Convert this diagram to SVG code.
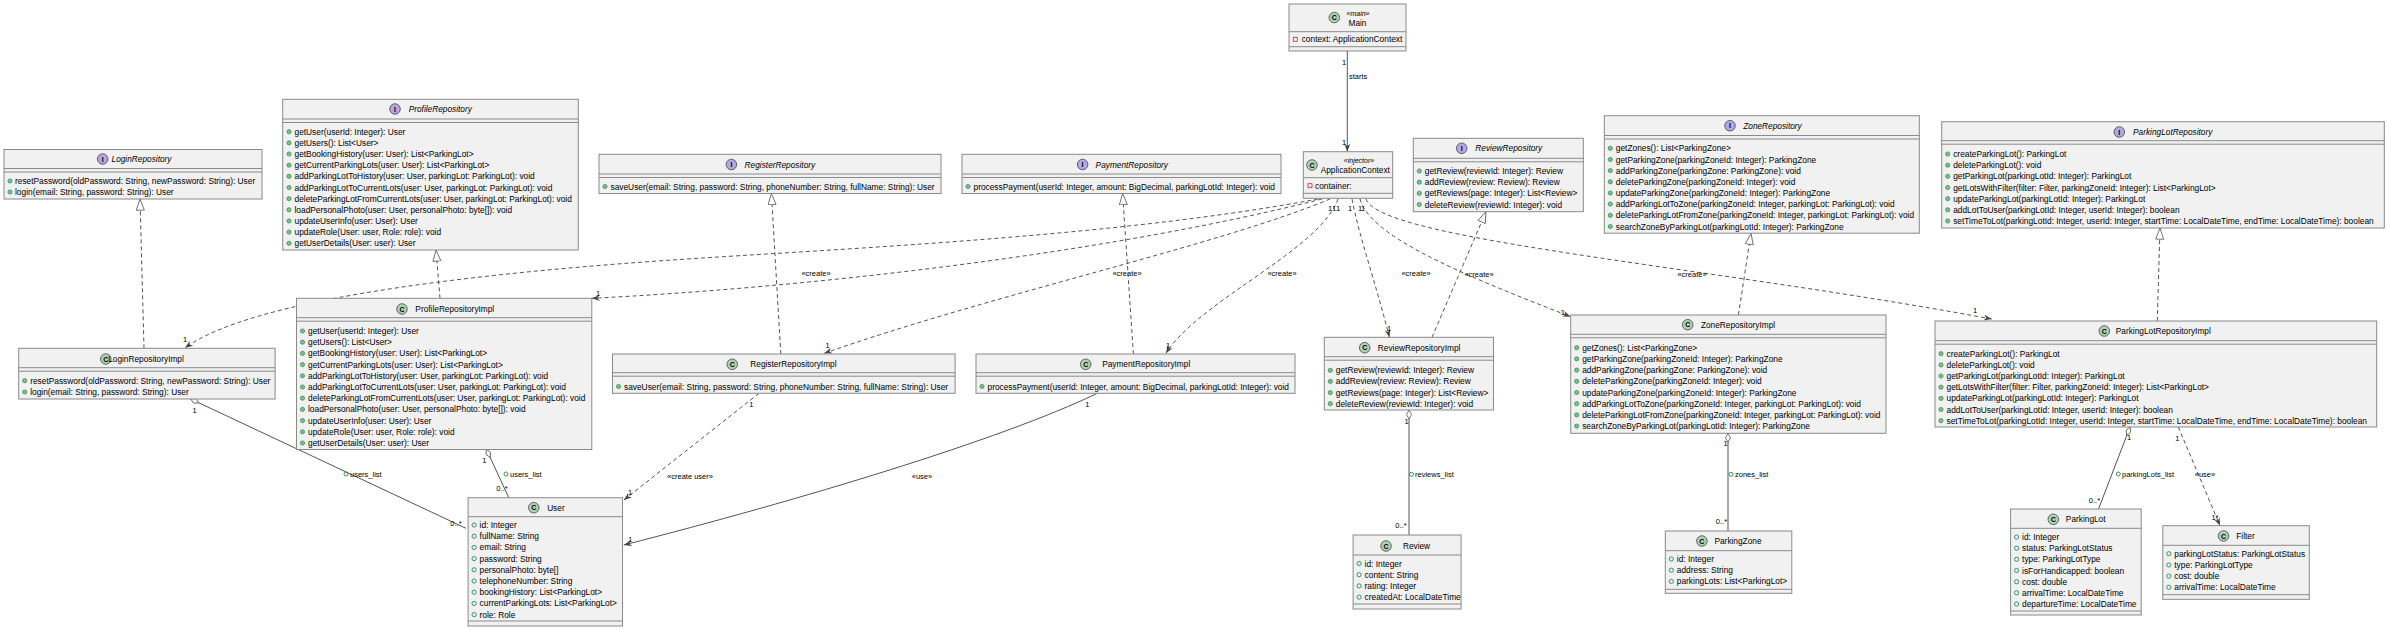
<svg xmlns="http://www.w3.org/2000/svg" width="2387" height="630" viewBox="0 0 2387 630">
<style>
text{font-family:"Liberation Sans",Arial,sans-serif;fill:#000}
.b{fill:#F1F1F1;stroke:#8a8a8a;stroke-width:1}
.s{stroke:#8a8a8a;stroke-width:1}
.n{font-size:8.3px;text-anchor:middle}
.ni{font-size:8.3px;text-anchor:middle;font-style:italic}
.st{font-size:7px;text-anchor:middle;font-style:italic}
.t{font-size:8.35px}
.l{font-size:7.5px}
.lm{font-size:7.5px;text-anchor:middle}
.m{fill:#84BE84;stroke:#038048;stroke-width:0.6}
.f{fill:none;stroke:#038048;stroke-width:0.8}
.p{fill:none;stroke:#C82930;stroke-width:0.8}
.ic{fill:#ADD1B2;stroke:#181818;stroke-width:0.6}
.ii{fill:#B4A7E5;stroke:#181818;stroke-width:0.6}
.il{font-size:7px;font-weight:bold;text-anchor:middle}
.c{fill:none;stroke:#555;stroke-width:1}
.d{stroke-dasharray:4,3}
</style>
<defs>
<marker id="arr" markerUnits="userSpaceOnUse" markerWidth="9" markerHeight="7" refX="8" refY="3" orient="auto"><path d="M0,0 L8,3 L0,6 L2.5,3 Z" fill="#444"/></marker>
<marker id="tri" markerUnits="userSpaceOnUse" markerWidth="13" markerHeight="10" refX="11.7" refY="4.5" orient="auto"><path d="M0.5,0.5 L11.7,4.5 L0.5,8.5 Z" fill="#fff" stroke="#555" stroke-width="0.8"/></marker>
<marker id="dia" markerUnits="userSpaceOnUse" markerWidth="11" markerHeight="7" refX="0.5" refY="3" orient="auto"><path d="M0.5,3 L5,0.5 L9.5,3 L5,5.5 Z" fill="#fff" stroke="#555" stroke-width="0.8"/></marker>
</defs>

<g id="connectors">
<path class="c" d="M1347.3,51 L1347.3,151.7" marker-end="url(#arr)"/>
<text class="l" x="1342" y="65">1</text>
<text class="l" x="1349" y="79">starts</text>
<text class="l" x="1342" y="145">1</text>

<path class="c d" d="M1318,199 C1100,240 800,250 630,263 S250,300 185,348" marker-end="url(#arr)"/>
<path class="c d" d="M1322,199 C1100,255 800,288 591.8,298.3" marker-end="url(#arr)"/>
<path class="c d" d="M1330,199 C1220,245 990,295 824.2,353.3" marker-end="url(#arr)"/>
<path class="c d" d="M1338,199 C1320,250 1200,300 1165.9,353.3" marker-end="url(#arr)"/>
<path class="c d" d="M1352,199 C1360,240 1375,280 1389.4,337.3" marker-end="url(#arr)"/>
<path class="c d" d="M1360,199 C1370,235 1450,270 1570.7,316.7" marker-end="url(#arr)"/>
<path class="c d" d="M1366,199 C1380,240 1700,265 1991.7,319" marker-end="url(#arr)"/>
<text class="lm" x="816" y="276">«create»</text>
<text class="lm" x="1127" y="276">«create»</text>
<text class="lm" x="1282" y="276">«create»</text>
<text class="lm" x="1416" y="276">«create»</text>
<text class="lm" x="1479" y="277">«create»</text>
<text class="lm" x="1692" y="277">«create»</text>
<text class="lm" x="1330" y="211">1</text>
<text class="lm" x="1334" y="211">1</text>
<text class="lm" x="1338" y="211">1</text>
<text class="lm" x="1350" y="211">1</text>
<text class="lm" x="1360" y="211">1</text>
<text class="lm" x="1363" y="211">1</text>
<text class="lm" x="185" y="342">1</text>
<text class="lm" x="598" y="296">1</text>
<text class="lm" x="827.6" y="348">1</text>
<text class="lm" x="1168" y="348">1</text>
<text class="lm" x="1389" y="330.5">1</text>
<text class="lm" x="1562.8" y="314.5">1</text>
<text class="lm" x="1975" y="313">1</text>

<path class="c d" d="M144,348.3 L140,199" marker-end="url(#tri)"/>
<path class="c d" d="M440,298.3 L436,250" marker-end="url(#tri)"/>
<path class="c d" d="M780.8,354 L771.4,193.5" marker-end="url(#tri)"/>
<path class="c d" d="M1133.4,354 L1122.6,193.5" marker-end="url(#tri)"/>
<path class="c d" d="M1432,337.3 L1486,211.7" marker-end="url(#tri)"/>
<path class="c d" d="M1738.4,315 L1751,233.3" marker-end="url(#tri)"/>
<path class="c d" d="M2157.3,321 L2160,228" marker-end="url(#tri)"/>

<path class="c" d="M190.7,399 L466,528.3" marker-start="url(#dia)"/>
<text class="lm" x="194.6" y="413">1</text>
<circle class="f" cx="346" cy="474" r="2"/><text class="l" x="350" y="477">users_list</text>
<text class="lm" x="456" y="526">0..*</text>

<path class="c" d="M486.4,449.3 L508.8,497.7" marker-start="url(#dia)"/>
<text class="lm" x="484.4" y="463">1</text>
<circle class="f" cx="506" cy="474" r="2"/><text class="l" x="510" y="477">users_list</text>
<text class="lm" x="502" y="491">0..*</text>

<path class="c d" d="M759,393.3 L623.8,500" marker-end="url(#arr)"/>
<text class="lm" x="751.3" y="407">1</text>
<text class="lm" x="690" y="478.5">«create user»</text>
<text class="lm" x="630" y="494.5">1</text>

<path class="c" d="M1097.4,393.3 C1000,440 800,500 623.8,545" marker-end="url(#arr)"/>
<text class="lm" x="1087.4" y="407">1</text>
<text class="lm" x="922" y="478.5">«use»</text>
<text class="lm" x="630.4" y="542">1</text>

<path class="c" d="M1409,410 L1409,535" marker-start="url(#dia)"/>
<text class="lm" x="1406.7" y="424">1</text>
<circle class="f" cx="1411.5" cy="474.3" r="2"/><text class="l" x="1415" y="477.3">reviews_list</text>
<text class="lm" x="1401" y="528">0..*</text>

<path class="c" d="M1728,433.3 L1728,531" marker-start="url(#dia)"/>
<text class="lm" x="1725.5" y="446">1</text>
<circle class="f" cx="1731" cy="474.3" r="2"/><text class="l" x="1735" y="477.3">zones_list</text>
<text class="lm" x="1721.5" y="524">0..*</text>

<path class="c" d="M2130,427 L2098.5,509" marker-start="url(#dia)"/>
<text class="lm" x="2129" y="439.5">1</text>
<circle class="f" cx="2118.3" cy="474" r="2"/><text class="l" x="2122" y="477">parkingLots_list</text>
<text class="lm" x="2094.5" y="503">0..*</text>

<path class="c d" d="M2178.3,427 L2220,525.7" marker-end="url(#arr)"/>
<text class="lm" x="2177.3" y="440.5">1</text>
<text class="lm" x="2205" y="477.3">«use»</text>
<text class="lm" x="2215" y="519.5">1*</text>
</g>

<g id="Main">
<rect class="b" x="1289" y="4" width="117" height="47"/>
<line class="s" x1="1289" y1="31.7" x2="1406" y2="31.7"/>
<line class="s" x1="1289" y1="46.7" x2="1406" y2="46.7"/>
<circle class="ic" cx="1334.3" cy="17.5" r="5.3"/><text class="il" x="1334.3" y="20">C</text>
<text class="st" x="1358" y="15.5">«main»</text>
<text class="n" x="1357.5" y="26.3">Main</text>
<rect class="p" x="1293.3" y="37.3" width="4" height="4"/>
<text class="t" x="1301.7" y="42.3">context: ApplicationContext</text>
</g>

<g id="ApplicationContext">
<rect class="b" x="1303.3" y="151.7" width="89.4" height="46.6"/>
<line class="s" x1="1303.3" y1="177.7" x2="1392.7" y2="177.7"/>
<line class="s" x1="1303.3" y1="193.3" x2="1392.7" y2="193.3"/>
<circle class="ic" cx="1312" cy="165" r="5.3"/><text class="il" x="1312" y="167.5">C</text>
<text class="st" x="1359" y="162.5">«injector»</text>
<text class="n" x="1355.3" y="173">ApplicationContext</text>
<rect class="p" x="1308" y="183.7" width="4" height="4"/>
<text class="t" x="1315" y="188.7">container:</text>
</g>

<g id="LoginRepository">
<rect class="b" x="4" y="149.5" width="258" height="49.5"/>
<line class="s" x1="4" y1="168.5" x2="262" y2="168.5"/>
<line class="s" x1="4" y1="172" x2="262" y2="172"/>
<circle class="ii" cx="102.7" cy="159" r="5.3"/><text class="il" x="102.7" y="161.5">I</text>
<text class="ni" x="141.5" y="162">LoginRepository</text>
<circle class="m" cx="10" cy="181" r="2.1"/><text class="t" x="15" y="184">resetPassword(oldPassword: String, newPassword: String): User</text>
<circle class="m" cx="10" cy="192" r="2.1"/><text class="t" x="15" y="195">login(email: String, password: String): User</text>
</g>

<g id="ProfileRepository">
<rect class="b" x="282.7" y="99.3" width="295.6" height="150.7"/>
<line class="s" x1="282.7" y1="119" x2="578.3" y2="119"/>
<line class="s" x1="282.7" y1="122.5" x2="578.3" y2="122.5"/>
<circle class="ii" cx="395" cy="109" r="5.3"/><text class="il" x="395" y="111.5">I</text>
<text class="ni" x="440.3" y="112">ProfileRepository</text>
<circle class="m" cx="289" cy="131.7" r="2.1"/><text class="t" x="294.5" y="134.7">getUser(userId: Integer): User</text>
<circle class="m" cx="289" cy="142.9" r="2.1"/><text class="t" x="294.5" y="145.9">getUsers(): List&lt;User&gt;</text>
<circle class="m" cx="289" cy="154" r="2.1"/><text class="t" x="294.5" y="157">getBookingHistory(user: User): List&lt;ParkingLot&gt;</text>
<circle class="m" cx="289" cy="165.2" r="2.1"/><text class="t" x="294.5" y="168.2">getCurrentParkingLots(user: User): List&lt;ParkingLot&gt;</text>
<circle class="m" cx="289" cy="176.3" r="2.1"/><text class="t" x="294.5" y="179.3">addParkingLotToHistory(user: User, parkingLot: ParkingLot): void</text>
<circle class="m" cx="289" cy="187.5" r="2.1"/><text class="t" x="294.5" y="190.5">addParkingLotToCurrentLots(user: User, parkingLot: ParkingLot): void</text>
<circle class="m" cx="289" cy="198.7" r="2.1"/><text class="t" x="294.5" y="201.7">deleteParkingLotFromCurrentLots(user: User, parkingLot: ParkingLot): void</text>
<circle class="m" cx="289" cy="209.8" r="2.1"/><text class="t" x="294.5" y="212.8">loadPersonalPhoto(user: User, personalPhoto: byte[]): void</text>
<circle class="m" cx="289" cy="221" r="2.1"/><text class="t" x="294.5" y="224">updateUserInfo(user: User): User</text>
<circle class="m" cx="289" cy="232.1" r="2.1"/><text class="t" x="294.5" y="235.1">updateRole(User: user, Role: role): void</text>
<circle class="m" cx="289" cy="243.3" r="2.1"/><text class="t" x="294.5" y="246.3">getUserDetails(User: user): User</text>
</g>

<g id="RegisterRepository">
<rect class="b" x="599" y="154.3" width="342" height="39.2"/>
<line class="s" x1="599" y1="174" x2="941" y2="174"/>
<line class="s" x1="599" y1="177.5" x2="941" y2="177.5"/>
<circle class="ii" cx="731.4" cy="164.5" r="5.3"/><text class="il" x="731.4" y="167">I</text>
<text class="ni" x="779.9" y="167.5">RegisterRepository</text>
<circle class="m" cx="605" cy="186.5" r="2.1"/><text class="t" x="610.5" y="189.5">saveUser(email: String, password: String, phoneNumber: String, fullName: String): User</text>
</g>

<g id="PaymentRepository">
<rect class="b" x="962" y="154.3" width="319" height="39.2"/>
<line class="s" x1="962" y1="174" x2="1281" y2="174"/>
<line class="s" x1="962" y1="177.5" x2="1281" y2="177.5"/>
<circle class="ii" cx="1082.6" cy="164.5" r="5.3"/><text class="il" x="1082.6" y="167">I</text>
<text class="ni" x="1131.8" y="167.5">PaymentRepository</text>
<circle class="m" cx="968" cy="186.5" r="2.1"/><text class="t" x="973.5" y="189.5">processPayment(userId: Integer, amount: BigDecimal, parkingLotId: Integer): void</text>
</g>

<g id="ReviewRepository">
<rect class="b" x="1413.3" y="138.3" width="170" height="73.4"/>
<line class="s" x1="1413.3" y1="158.3" x2="1583.3" y2="158.3"/>
<line class="s" x1="1413.3" y1="161.8" x2="1583.3" y2="161.8"/>
<circle class="ii" cx="1461.7" cy="148.3" r="5.3"/><text class="il" x="1461.7" y="150.8">I</text>
<text class="ni" x="1508.8" y="151.3">ReviewRepository</text>
<circle class="m" cx="1419.3" cy="171" r="2.1"/><text class="t" x="1424.8" y="174">getReview(reviewId: Integer): Review</text>
<circle class="m" cx="1419.3" cy="182.2" r="2.1"/><text class="t" x="1424.8" y="185.2">addReview(review: Review): Review</text>
<circle class="m" cx="1419.3" cy="193.3" r="2.1"/><text class="t" x="1424.8" y="196.3">getReviews(page: Integer): List&lt;Review&gt;</text>
<circle class="m" cx="1419.3" cy="204.5" r="2.1"/><text class="t" x="1424.8" y="207.5">deleteReview(reviewId: Integer): void</text>
</g>

<g id="ZoneRepository">
<rect class="b" x="1604.3" y="115.7" width="315" height="117.5"/>
<line class="s" x1="1604.3" y1="135.5" x2="1919.3" y2="135.5"/>
<line class="s" x1="1604.3" y1="139" x2="1919.3" y2="139"/>
<circle class="ii" cx="1730" cy="125.7" r="5.3"/><text class="il" x="1730" y="128.2">I</text>
<text class="ni" x="1772.5" y="128.7">ZoneRepository</text>
<circle class="m" cx="1610.3" cy="148.3" r="2.1"/><text class="t" x="1615.8" y="151.3">getZones(): List&lt;ParkingZone&gt;</text>
<circle class="m" cx="1610.3" cy="159.5" r="2.1"/><text class="t" x="1615.8" y="162.5">getParkingZone(parkingZoneId: Integer): ParkingZone</text>
<circle class="m" cx="1610.3" cy="170.6" r="2.1"/><text class="t" x="1615.8" y="173.6">addParkingZone(parkingZone: ParkingZone): void</text>
<circle class="m" cx="1610.3" cy="181.8" r="2.1"/><text class="t" x="1615.8" y="184.8">deleteParkingZone(parkingZoneId: Integer): void</text>
<circle class="m" cx="1610.3" cy="193" r="2.1"/><text class="t" x="1615.8" y="196">updateParkingZone(parkingZoneId: Integer): ParkingZone</text>
<circle class="m" cx="1610.3" cy="204.1" r="2.1"/><text class="t" x="1615.8" y="207.1">addParkingLotToZone(parkingZoneId: Integer, parkingLot: ParkingLot): void</text>
<circle class="m" cx="1610.3" cy="215.3" r="2.1"/><text class="t" x="1615.8" y="218.3">deleteParkingLotFromZone(parkingZoneId: Integer, parkingLot: ParkingLot): void</text>
<circle class="m" cx="1610.3" cy="226.5" r="2.1"/><text class="t" x="1615.8" y="229.5">searchZoneByParkingLot(parkingLotId: Integer): ParkingZone</text>
</g>

<g id="ParkingLotRepository">
<rect class="b" x="1941.7" y="121.7" width="442.6" height="106.3"/>
<line class="s" x1="1941.7" y1="140.7" x2="2384.3" y2="140.7"/>
<line class="s" x1="1941.7" y1="144.2" x2="2384.3" y2="144.2"/>
<circle class="ii" cx="2119.3" cy="132" r="5.3"/><text class="il" x="2119.3" y="134.5">I</text>
<text class="ni" x="2172.7" y="135">ParkingLotRepository</text>
<circle class="m" cx="1947.7" cy="154" r="2.1"/><text class="t" x="1953.2" y="157">createParkingLot(): ParkingLot</text>
<circle class="m" cx="1947.7" cy="165.2" r="2.1"/><text class="t" x="1953.2" y="168.2">deleteParkingLot(): void</text>
<circle class="m" cx="1947.7" cy="176.3" r="2.1"/><text class="t" x="1953.2" y="179.3">getParkingLot(parkingLotId: Integer): ParkingLot</text>
<circle class="m" cx="1947.7" cy="187.5" r="2.1"/><text class="t" x="1953.2" y="190.5">getLotsWithFilter(filter: Filter, parkingZoneId: Integer): List&lt;ParkingLot&gt;</text>
<circle class="m" cx="1947.7" cy="198.7" r="2.1"/><text class="t" x="1953.2" y="201.7">updateParkingLot(parkingLotId: Integer): ParkingLot</text>
<circle class="m" cx="1947.7" cy="209.8" r="2.1"/><text class="t" x="1953.2" y="212.8">addLotToUser(parkingLotId: Integer, userId: Integer): boolean</text>
<circle class="m" cx="1947.7" cy="221" r="2.1"/><text class="t" x="1953.2" y="224">setTimeToLot(parkingLotId: Integer, userId: Integer, startTime: LocalDateTime, endTime: LocalDateTime): boolean</text>
</g>

<g id="LoginRepositoryImpl">
<rect class="b" x="18.7" y="348.3" width="256.4" height="50.7"/>
<line class="s" x1="18.7" y1="367.7" x2="275.1" y2="367.7"/>
<line class="s" x1="18.7" y1="371.2" x2="275.1" y2="371.2"/>
<circle class="ic" cx="105.8" cy="359" r="5.3"/><text class="il" x="105.8" y="361.5">C</text>
<text class="n" x="146" y="362">LoginRepositoryImpl</text>
<circle class="m" cx="24.7" cy="380.7" r="2.1"/><text class="t" x="30.2" y="383.7">resetPassword(oldPassword: String, newPassword: String): User</text>
<circle class="m" cx="24.7" cy="392" r="2.1"/><text class="t" x="30.2" y="395">login(email: String, password: String): User</text>
</g>

<g id="ProfileRepositoryImpl">
<rect class="b" x="296.5" y="298.3" width="295.3" height="151.2"/>
<line class="s" x1="296.5" y1="317.7" x2="591.8" y2="317.7"/>
<line class="s" x1="296.5" y1="321.2" x2="591.8" y2="321.2"/>
<circle class="ic" cx="402" cy="309" r="5.3"/><text class="il" x="402" y="311.5">C</text>
<text class="n" x="454.8" y="312">ProfileRepositoryImpl</text>
<circle class="m" cx="302.5" cy="331" r="2.1"/><text class="t" x="308" y="334">getUser(userId: Integer): User</text>
<circle class="m" cx="302.5" cy="342.2" r="2.1"/><text class="t" x="308" y="345.2">getUsers(): List&lt;User&gt;</text>
<circle class="m" cx="302.5" cy="353.4" r="2.1"/><text class="t" x="308" y="356.4">getBookingHistory(user: User): List&lt;ParkingLot&gt;</text>
<circle class="m" cx="302.5" cy="364.6" r="2.1"/><text class="t" x="308" y="367.6">getCurrentParkingLots(user: User): List&lt;ParkingLot&gt;</text>
<circle class="m" cx="302.5" cy="375.8" r="2.1"/><text class="t" x="308" y="378.8">addParkingLotToHistory(user: User, parkingLot: ParkingLot): void</text>
<circle class="m" cx="302.5" cy="387" r="2.1"/><text class="t" x="308" y="390">addParkingLotToCurrentLots(user: User, parkingLot: ParkingLot): void</text>
<circle class="m" cx="302.5" cy="398.2" r="2.1"/><text class="t" x="308" y="401.2">deleteParkingLotFromCurrentLots(user: User, parkingLot: ParkingLot): void</text>
<circle class="m" cx="302.5" cy="409.4" r="2.1"/><text class="t" x="308" y="412.4">loadPersonalPhoto(user: User, personalPhoto: byte[]): void</text>
<circle class="m" cx="302.5" cy="420.6" r="2.1"/><text class="t" x="308" y="423.6">updateUserInfo(user: User): User</text>
<circle class="m" cx="302.5" cy="431.8" r="2.1"/><text class="t" x="308" y="434.8">updateRole(User: user, Role: role): void</text>
<circle class="m" cx="302.5" cy="443" r="2.1"/><text class="t" x="308" y="446">getUserDetails(User: user): User</text>
</g>

<g id="RegisterRepositoryImpl">
<rect class="b" x="612.5" y="354" width="342.6" height="39.3"/>
<line class="s" x1="612.5" y1="372.7" x2="955.1" y2="372.7"/>
<line class="s" x1="612.5" y1="376.2" x2="955.1" y2="376.2"/>
<circle class="ic" cx="732.2" cy="364.3" r="5.3"/><text class="il" x="732.2" y="366.8">C</text>
<text class="n" x="793.4" y="367.3">RegisterRepositoryImpl</text>
<circle class="m" cx="618.5" cy="386.5" r="2.1"/><text class="t" x="624" y="389.5">saveUser(email: String, password: String, phoneNumber: String, fullName: String): User</text>
</g>

<g id="PaymentRepositoryImpl">
<rect class="b" x="976" y="354" width="319" height="39.3"/>
<line class="s" x1="976" y1="372.7" x2="1295" y2="372.7"/>
<line class="s" x1="976" y1="376.2" x2="1295" y2="376.2"/>
<circle class="ic" cx="1085.7" cy="364.3" r="5.3"/><text class="il" x="1085.7" y="366.8">C</text>
<text class="n" x="1146.2" y="367.3">PaymentRepositoryImpl</text>
<circle class="m" cx="982" cy="386.5" r="2.1"/><text class="t" x="987.5" y="389.5">processPayment(userId: Integer, amount: BigDecimal, parkingLotId: Integer): void</text>
</g>

<g id="ReviewRepositoryImpl">
<rect class="b" x="1324.3" y="337.3" width="169.2" height="72.7"/>
<line class="s" x1="1324.3" y1="356.7" x2="1493.5" y2="356.7"/>
<line class="s" x1="1324.3" y1="360.2" x2="1493.5" y2="360.2"/>
<circle class="ic" cx="1364.7" cy="347.7" r="5.3"/><text class="il" x="1364.7" y="350.2">C</text>
<text class="n" x="1419.1" y="350.7">ReviewRepositoryImpl</text>
<circle class="m" cx="1330.3" cy="370.3" r="2.1"/><text class="t" x="1335.8" y="373.3">getReview(reviewId: Integer): Review</text>
<circle class="m" cx="1330.3" cy="381.4" r="2.1"/><text class="t" x="1335.8" y="384.4">addReview(review: Review): Review</text>
<circle class="m" cx="1330.3" cy="392.6" r="2.1"/><text class="t" x="1335.8" y="395.6">getReviews(page: Integer): List&lt;Review&gt;</text>
<circle class="m" cx="1330.3" cy="403.7" r="2.1"/><text class="t" x="1335.8" y="406.7">deleteReview(reviewId: Integer): void</text>
</g>

<g id="ZoneRepositoryImpl">
<rect class="b" x="1570.7" y="315" width="315.3" height="118.3"/>
<line class="s" x1="1570.7" y1="334.3" x2="1886" y2="334.3"/>
<line class="s" x1="1570.7" y1="337.8" x2="1886" y2="337.8"/>
<circle class="ic" cx="1687.7" cy="324.7" r="5.3"/><text class="il" x="1687.7" y="327.2">C</text>
<text class="n" x="1738" y="327.7">ZoneRepositoryImpl</text>
<circle class="m" cx="1576.7" cy="347.7" r="2.1"/><text class="t" x="1582.2" y="350.7">getZones(): List&lt;ParkingZone&gt;</text>
<circle class="m" cx="1576.7" cy="358.9" r="2.1"/><text class="t" x="1582.2" y="361.9">getParkingZone(parkingZoneId: Integer): ParkingZone</text>
<circle class="m" cx="1576.7" cy="370.1" r="2.1"/><text class="t" x="1582.2" y="373.1">addParkingZone(parkingZone: ParkingZone): void</text>
<circle class="m" cx="1576.7" cy="381.3" r="2.1"/><text class="t" x="1582.2" y="384.3">deleteParkingZone(parkingZoneId: Integer): void</text>
<circle class="m" cx="1576.7" cy="392.5" r="2.1"/><text class="t" x="1582.2" y="395.5">updateParkingZone(parkingZoneId: Integer): ParkingZone</text>
<circle class="m" cx="1576.7" cy="403.7" r="2.1"/><text class="t" x="1582.2" y="406.7">addParkingLotToZone(parkingZoneId: Integer, parkingLot: ParkingLot): void</text>
<circle class="m" cx="1576.7" cy="414.9" r="2.1"/><text class="t" x="1582.2" y="417.9">deleteParkingLotFromZone(parkingZoneId: Integer, parkingLot: ParkingLot): void</text>
<circle class="m" cx="1576.7" cy="426.1" r="2.1"/><text class="t" x="1582.2" y="429.1">searchZoneByParkingLot(parkingLotId: Integer): ParkingZone</text>
</g>

<g id="ParkingLotRepositoryImpl">
<rect class="b" x="1935" y="321" width="441.7" height="106"/>
<line class="s" x1="1935" y1="340.7" x2="2376.7" y2="340.7"/>
<line class="s" x1="1935" y1="344.2" x2="2376.7" y2="344.2"/>
<circle class="ic" cx="2104.3" cy="331" r="5.3"/><text class="il" x="2104.3" y="333.5">C</text>
<text class="n" x="2163.3" y="334">ParkingLotRepositoryImpl</text>
<circle class="m" cx="1941" cy="353.7" r="2.1"/><text class="t" x="1946.5" y="356.7">createParkingLot(): ParkingLot</text>
<circle class="m" cx="1941" cy="364.9" r="2.1"/><text class="t" x="1946.5" y="367.9">deleteParkingLot(): void</text>
<circle class="m" cx="1941" cy="376" r="2.1"/><text class="t" x="1946.5" y="379">getParkingLot(parkingLotId: Integer): ParkingLot</text>
<circle class="m" cx="1941" cy="387.2" r="2.1"/><text class="t" x="1946.5" y="390.2">getLotsWithFilter(filter: Filter, parkingZoneId: Integer): List&lt;ParkingLot&gt;</text>
<circle class="m" cx="1941" cy="398.4" r="2.1"/><text class="t" x="1946.5" y="401.4">updateParkingLot(parkingLotId: Integer): ParkingLot</text>
<circle class="m" cx="1941" cy="409.5" r="2.1"/><text class="t" x="1946.5" y="412.5">addLotToUser(parkingLotId: Integer, userId: Integer): boolean</text>
<circle class="m" cx="1941" cy="420.7" r="2.1"/><text class="t" x="1946.5" y="423.7">setTimeToLot(parkingLotId: Integer, userId: Integer, startTime: LocalDateTime, endTime: LocalDateTime): boolean</text>
</g>

<g id="User">
<rect class="b" x="468.1" y="497.7" width="154.4" height="128.3"/>
<line class="s" x1="468.1" y1="516.7" x2="622.5" y2="516.7"/>
<line class="s" x1="468.1" y1="621" x2="622.5" y2="621"/>
<circle class="ic" cx="533.8" cy="507.7" r="5.3"/><text class="il" x="533.8" y="510.2">C</text>
<text class="n" x="555.9" y="510.7">User</text>
<circle class="f" cx="474.1" cy="525" r="2.1"/><text class="t" x="479.6" y="528">id: Integer</text>
<circle class="f" cx="474.1" cy="536.2" r="2.1"/><text class="t" x="479.6" y="539.2">fullName: String</text>
<circle class="f" cx="474.1" cy="547.4" r="2.1"/><text class="t" x="479.6" y="550.4">email: String</text>
<circle class="f" cx="474.1" cy="558.6" r="2.1"/><text class="t" x="479.6" y="561.6">password: String</text>
<circle class="f" cx="474.1" cy="569.8" r="2.1"/><text class="t" x="479.6" y="572.8">personalPhoto: byte[]</text>
<circle class="f" cx="474.1" cy="581" r="2.1"/><text class="t" x="479.6" y="584">telephoneNumber: String</text>
<circle class="f" cx="474.1" cy="592.2" r="2.1"/><text class="t" x="479.6" y="595.2">bookingHistory: List&lt;ParkingLot&gt;</text>
<circle class="f" cx="474.1" cy="603.4" r="2.1"/><text class="t" x="479.6" y="606.4">currentParkingLots: List&lt;ParkingLot&gt;</text>
<circle class="f" cx="474.1" cy="614.6" r="2.1"/><text class="t" x="479.6" y="617.6">role: Role</text>
</g>

<g id="Review">
<rect class="b" x="1353.1" y="535" width="108" height="74"/>
<line class="s" x1="1353.1" y1="555" x2="1461.1" y2="555"/>
<line class="s" x1="1353.1" y1="604" x2="1461.1" y2="604"/>
<circle class="ic" cx="1386" cy="546" r="5.3"/><text class="il" x="1386" y="548.5">C</text>
<text class="n" x="1416.5" y="549">Review</text>
<circle class="f" cx="1359.1" cy="563.5" r="2.1"/><text class="t" x="1364.6" y="566.5">id: Integer</text>
<circle class="f" cx="1359.1" cy="574.7" r="2.1"/><text class="t" x="1364.6" y="577.7">content: String</text>
<circle class="f" cx="1359.1" cy="585.9" r="2.1"/><text class="t" x="1364.6" y="588.9">rating: Integer</text>
<circle class="f" cx="1359.1" cy="597.1" r="2.1"/><text class="t" x="1364.6" y="600.1">createdAt: LocalDateTime</text>
</g>

<g id="ParkingZone">
<rect class="b" x="1665.3" y="531" width="126.5" height="62.3"/>
<line class="s" x1="1665.3" y1="550.7" x2="1791.8" y2="550.7"/>
<line class="s" x1="1665.3" y1="589.3" x2="1791.8" y2="589.3"/>
<circle class="ic" cx="1701.9" cy="541" r="5.3"/><text class="il" x="1701.9" y="543.5">C</text>
<text class="n" x="1738" y="544">ParkingZone</text>
<circle class="f" cx="1671.3" cy="559" r="2.1"/><text class="t" x="1676.8" y="562">id: Integer</text>
<circle class="f" cx="1671.3" cy="570.2" r="2.1"/><text class="t" x="1676.8" y="573.2">address: String</text>
<circle class="f" cx="1671.3" cy="581.4" r="2.1"/><text class="t" x="1676.8" y="584.4">parkingLots: List&lt;ParkingLot&gt;</text>
</g>

<g id="ParkingLot">
<rect class="b" x="2010.6" y="509" width="130.6" height="106"/>
<line class="s" x1="2010.6" y1="528.3" x2="2141.2" y2="528.3"/>
<line class="s" x1="2010.6" y1="611" x2="2141.2" y2="611"/>
<circle class="ic" cx="2053.3" cy="519.3" r="5.3"/><text class="il" x="2053.3" y="521.8">C</text>
<text class="n" x="2085.7" y="522.3">ParkingLot</text>
<circle class="f" cx="2016.6" cy="537" r="2.1"/><text class="t" x="2022.1" y="540">id: Integer</text>
<circle class="f" cx="2016.6" cy="548.2" r="2.1"/><text class="t" x="2022.1" y="551.2">status: ParkingLotStatus</text>
<circle class="f" cx="2016.6" cy="559.3" r="2.1"/><text class="t" x="2022.1" y="562.3">type: ParkingLotType</text>
<circle class="f" cx="2016.6" cy="570.5" r="2.1"/><text class="t" x="2022.1" y="573.5">isForHandicapped: boolean</text>
<circle class="f" cx="2016.6" cy="581.7" r="2.1"/><text class="t" x="2022.1" y="584.7">cost: double</text>
<circle class="f" cx="2016.6" cy="592.8" r="2.1"/><text class="t" x="2022.1" y="595.8">arrivalTime: LocalDateTime</text>
<circle class="f" cx="2016.6" cy="604" r="2.1"/><text class="t" x="2022.1" y="607">departureTime: LocalDateTime</text>
</g>

<g id="Filter">
<rect class="b" x="2162.8" y="525.7" width="146.5" height="73.6"/>
<line class="s" x1="2162.8" y1="545.3" x2="2309.3" y2="545.3"/>
<line class="s" x1="2162.8" y1="594.7" x2="2309.3" y2="594.7"/>
<circle class="ic" cx="2223.5" cy="536" r="5.3"/><text class="il" x="2223.5" y="538.5">C</text>
<text class="n" x="2245.5" y="539">Filter</text>
<circle class="f" cx="2168.8" cy="553.7" r="2.1"/><text class="t" x="2174.3" y="556.7">parkingLotStatus: ParkingLotStatus</text>
<circle class="f" cx="2168.8" cy="564.9" r="2.1"/><text class="t" x="2174.3" y="567.9">type: ParkingLotType</text>
<circle class="f" cx="2168.8" cy="576.1" r="2.1"/><text class="t" x="2174.3" y="579.1">cost: double</text>
<circle class="f" cx="2168.8" cy="587.3" r="2.1"/><text class="t" x="2174.3" y="590.3">arrivalTime: LocalDateTime</text>
</g>
</svg>
